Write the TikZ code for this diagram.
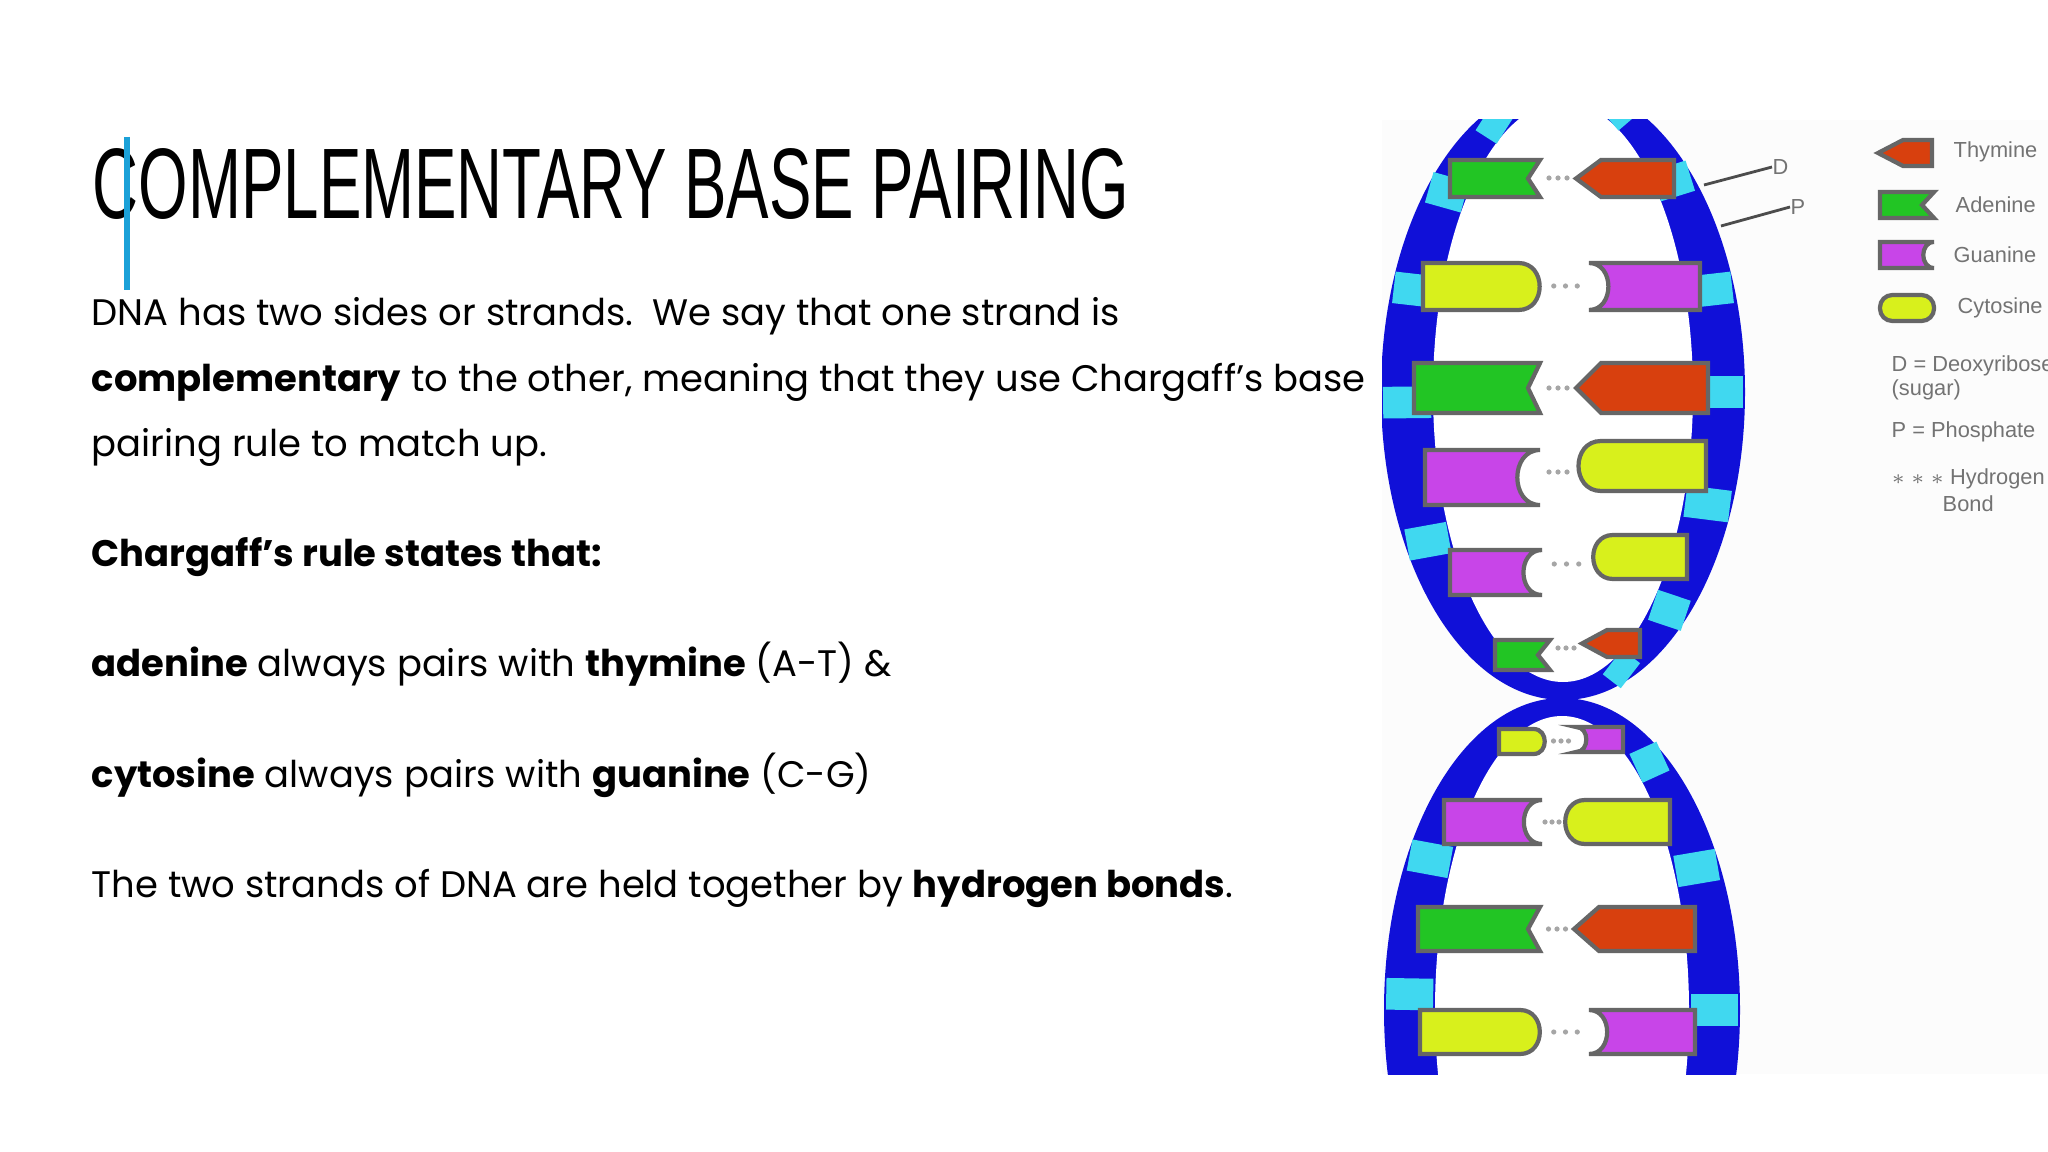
\documentclass[tikz,border=0pt]{standalone}
\usepackage{fontspec}
\setmainfont{Poppins}
\newfontfamily\titlefont[FakeStretch=0.635]{Liberation Sans}
\newfontfamily\legfont{Liberation Sans}
\definecolor{agreen}{HTML}{22C524}
\definecolor{tred}{HTML}{D8400E}
\definecolor{gpurp}{HTML}{C845E8}
\definecolor{cyel}{HTML}{D8F01C}
\definecolor{dblue}{HTML}{1010D8}
\definecolor{pcyan}{HTML}{40D8F0}
\definecolor{accent}{HTML}{1BA1D8}
\tikzset{
  basestyle/.style={draw=black!60,line width=1.2pt},
  body/.style={anchor=base west,inner sep=0,font=\fontsize{10.5}{12}\selectfont},
  leg/.style={anchor=west,inner sep=0,text=black!55,font=\legfont\fontsize{6.2}{6.8}\selectfont},
}
\newcommand\Aleft[4]{\filldraw[basestyle,fill=agreen] (#1,#3) -- (#2,#3) -- ({#2-12},{(#3+#4)/2}) -- (#2,#4) -- (#1,#4) -- cycle;}
\newcommand\Tright[4]{\filldraw[basestyle,fill=tred] (#1,{(#3+#4)/2}) -- ({#1+25},#3) -- (#2,#3) -- (#2,#4) -- ({#1+25},#4) -- cycle;}
\newcommand\Gleft[4]{\filldraw[basestyle,fill=gpurp] (#1,#3) -- (#2,#3) .. controls ({#2-0.55*(#4-#3)},#3) and ({#2-0.55*(#4-#3)},#4) .. (#2,#4) -- (#1,#4) -- cycle;}
\newcommand\Gright[4]{\filldraw[basestyle,fill=gpurp] (#2,#3) -- (#1,#3) .. controls ({#1+0.55*(#4-#3)},#3) and ({#1+0.55*(#4-#3)},#4) .. (#1,#4) -- (#2,#4) -- cycle;}
\newcommand\Cleft[4]{\filldraw[basestyle,fill=cyel] (#1,#3) -- ({#2-0.5*(#4-#3)},#3) .. controls ({#2+0.1*(#4-#3)},#3) and ({#2+0.1*(#4-#3)},#4) .. ({#2-0.5*(#4-#3)},#4) -- (#1,#4) -- cycle;}
\newcommand\Cright[4]{\filldraw[basestyle,fill=cyel] (#2,#3) -- ({#1+0.5*(#4-#3)},#3) .. controls ({#1-0.1*(#4-#3)},#3) and ({#1-0.1*(#4-#3)},#4) .. ({#1+0.5*(#4-#3)},#4) -- (#2,#4) -- cycle;}
\newcommand\Hdots[3]{\foreach \k in {0,1,2}{\fill[black!35] ({#1+(#2-#1)*(\k+1)/4},#3) circle (2.6);}}
\begin{document}
\begin{tikzpicture}[x=0.01cm,y=-0.01cm]
\useasboundingbox (0,0) rectangle (2048,1152);
\fill[white] (0,0) rectangle (2048,1152);
% text
\node[anchor=base west,inner sep=0,font=\titlefont\fontsize{28.5}{30}\selectfont] (title) at (92,219) {COMPLEMENTARY BASE PAIRING};
\draw[accent,line width=1.6pt] (127,137) -- (127,290);
\node[body] (l1) at (91,326) {DNA has two sides or strands.\ \ We say that one strand is};
\node[body] (l2) at (91,392) {\textbf{complementary} to the other, meaning that they use Chargaff’s base};
\node[body] (l3) at (91,457) {pairing rule to match up.};
\node[body] (l4) at (91,567) {\textbf{Chargaff’s rule states that:}};
\node[body] (l5) at (91,676) {\textbf{adenine} always pairs with \textbf{thymine} (A-T) \&};
\node[body] (l6) at (91,787) {\textbf{cytosine} always pairs with \textbf{guanine} (C-G)};
\node[body] (l7) at (91,897) {The two strands of DNA are held together by \textbf{hydrogen bonds}.};
% DNA image
\begin{scope}
\clip (1382,120) rectangle (2048,1074);
\fill[black!1] (1382,120) rectangle (2048,1074);
\fill[dblue] (1563,392) ellipse [x radius=182,y radius=308];
\fill[white] (1563,392) ellipse [x radius=130,y radius=290];
\fill[dblue] (1562,1010) ellipse [x radius=178,y radius=312];
\fill[white] (1562,1010) ellipse [x radius=127,y radius=294];
\foreach \t in {150,178,200,222,244,262}{
  \draw[pcyan,line width=9pt] ({1563+132*cos(\t)},{392+291*sin(\t)}) -- ({1563+180*cos(\t)},{392+306*sin(\t)});}
\foreach \t in {-70,-45,-20,0,22,47,68}{
  \draw[pcyan,line width=9pt] ({1563+132*cos(\t)},{392+291*sin(\t)}) -- ({1563+180*cos(\t)},{392+306*sin(\t)});}
\foreach \t in {125,155,183,210,-55,-28,0,25}{
  \draw[pcyan,line width=9pt] ({1562+129*cos(\t)},{1010+295*sin(\t)}) -- ({1562+176*cos(\t)},{1010+310*sin(\t)});}
% pairs
\Aleft{1450}{1540}{160}{197}\Tright{1576}{1674}{160}{197}\Hdots{1540}{1576}{178}
\Cleft{1423}{1542}{263}{310}\Gright{1589}{1700}{263}{310}\Hdots{1542}{1589}{286}
\Aleft{1414}{1540}{363}{413}\Tright{1576}{1708}{363}{413}\Hdots{1540}{1576}{388}
\Gleft{1425}{1540}{450}{505}\Cright{1576}{1706}{441}{491}\Hdots{1540}{1576}{472}
\Gleft{1450}{1542}{550}{595}\Cright{1591}{1687}{535}{579}\Hdots{1542}{1591}{564}
\Aleft{1495}{1550}{640}{670}\Tright{1582}{1640}{630}{657}\Hdots{1550}{1582}{648}
\Cleft{1499}{1546}{729}{754}\Gright{1576}{1623}{727}{752}\Hdots{1546}{1576}{741}
\Gleft{1444}{1542}{800}{844}\Cright{1563}{1670}{800}{844}\Hdots{1538}{1566}{822}
\Aleft{1418}{1540}{907}{951}\Tright{1574}{1695}{907}{951}\Hdots{1540}{1574}{929}
\Cleft{1420}{1542}{1010}{1054}\Gright{1589}{1695}{1010}{1054}\Hdots{1542}{1589}{1032}
% D and P labels
\coordinate (dA) at (1704,185); \coordinate (pA) at (1721,226);
\node[leg] (dL) at (1772,167) {D};
\node[leg] (pL) at (1790,207) {P};
\draw[black!70,line width=0.8pt] (dA) -- (dL.west);
\draw[black!70,line width=0.8pt] (pA) -- (pL.west);
% legend
\Tright{1878}{1932}{140}{166}
\Aleft{1880}{1934}{192}{218}
\Gleft{1880}{1934}{242}{268}
\filldraw[basestyle,fill=cyel,rounded corners=3.5pt] (1880,295) rectangle (1934,321);
\node[leg] (lt) at (1953,152) {Thymine};
\node[leg] (la) at (1955,205) {Adenine};
\node[leg] (lg) at (1953,255) {Guanine};
\node[leg] (lc) at (1957,308) {Cytosine};
\node[leg,align=left,anchor=north west] (ld) at (1891,355) {D = Deoxyribose\\(sugar)};
\node[leg] (lp) at (1891,432) {P = Phosphate};
\node[leg] (lh) at (1891,479) {$\ast\ast\ast$ Hydrogen};
\node[leg] (lb) at (1942,504) {Bond};
\end{scope}
\end{tikzpicture}
\end{document}
